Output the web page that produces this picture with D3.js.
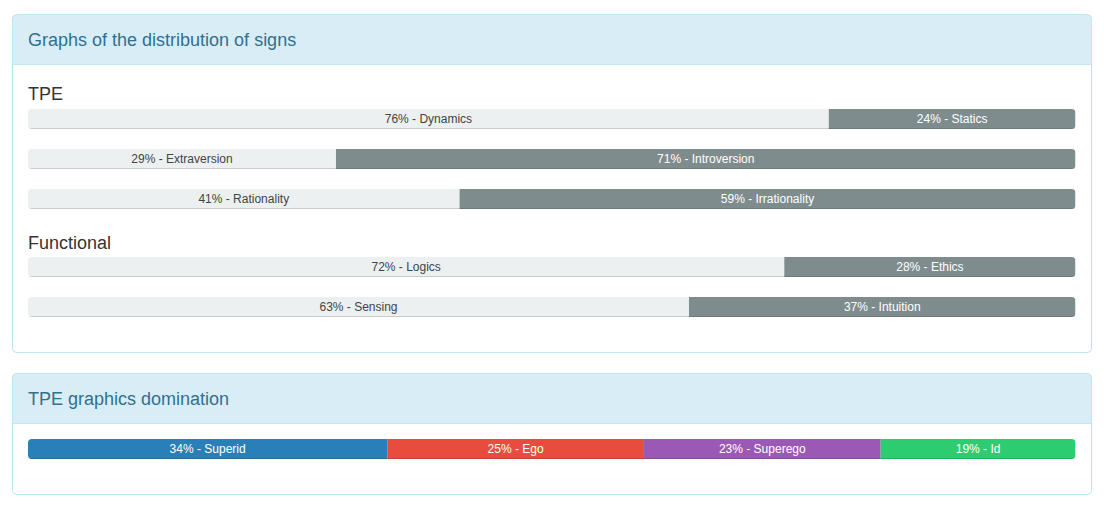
<!DOCTYPE html>
<html><head><meta charset="utf-8">
<script src="https://cdn.jsdelivr.net/npm/d3@7/dist/d3.min.js"></script>
<style>
html,body{margin:0;padding:0;background:#fff;}
svg{display:block;font-family:"Liberation Sans",Arial,Helvetica,sans-serif;}
</style></head>
<body>
<svg id="c" width="1104" height="507"></svg>
<script>
// ---- data ----
const panelTitles = ["Graphs of the distribution of signs", "TPE graphics domination"];
const groupNames = ["TPE", "Functional"];
const tpeLeftLabels = ["Dynamics", "Extraversion", "Rationality"];
const tpeRightLabels = ["Statics", "Introversion", "Irrationality"];
const tpeLeftValues = [76.45, 29.4, 41.2];
const funcLeftLabels = ["Logics", "Sensing"];
const funcRightLabels = ["Ethics", "Intuition"];
const funcLeftValues = [72.2, 63.1];
const domLabels = ["Superid", "Ego", "Superego", "Id"];
const domValues = [34.3, 24.5, 22.6, 18.6];
const domColors = ["#2980b9", "#e74c3c", "#9b59b6", "#2ecc71"];

const svg = d3.select("#c");
const x = d3.scaleLinear().domain([0, 100]).range([28, 1075.5]);
const barH = 20;

function panel(y0, h, title) {
  const g = svg.append("g");
  const clipId = "pc" + y0;
  g.append("clipPath").attr("id", clipId).append("rect")
    .attr("x", 12.5).attr("y", y0 + 0.5).attr("width", 1079).attr("height", h).attr("rx", 4);
  g.append("rect").attr("x", 12.5).attr("y", y0 + 0.5).attr("width", 1079).attr("height", 50)
    .attr("fill", "#d9edf7").attr("clip-path", `url(#${clipId})`);
  g.append("line").attr("x1", 12.5).attr("x2", 1091.5).attr("y1", y0 + 50.5).attr("y2", y0 + 50.5)
    .attr("stroke", "#bce8f1");
  g.append("rect").attr("x", 12.5).attr("y", y0 + 0.5).attr("width", 1079).attr("height", h).attr("rx", 4)
    .attr("fill", "none").attr("stroke", "#bce8f1");
  g.append("text").attr("x", 28).attr("y", y0 + 31.5).attr("font-size", 18).attr("fill", "#31708f").text(title);
}

function stacked(y, segs) {
  const id = "bc" + Math.round(y);
  svg.append("clipPath").attr("id", id).append("rect")
    .attr("x", x(0)).attr("y", y).attr("width", x(100) - x(0)).attr("height", barH).attr("rx", 4);
  const g = svg.append("g").attr("clip-path", `url(#${id})`);
  let acc = 0;
  const data = segs.map(s => { const o = Object.assign({}, s, {x0: acc}); acc += s.v; return o; });
  g.selectAll("rect.s").data(data).join("rect").attr("class", "s")
    .attr("x", d => x(d.x0)).attr("y", y).attr("width", d => x(d.x0 + d.v) - x(d.x0)).attr("height", barH)
    .attr("fill", d => d.fill);
  g.append("rect").attr("x", x(0)).attr("y", y + barH - 1).attr("width", x(100) - x(0)).attr("height", 1)
    .attr("fill", "rgba(0,0,0,0.15)");
  svg.selectAll(null).data(data).join("text")
    .attr("x", d => (x(d.x0) + x(d.x0 + d.v)) / 2).attr("y", y + 14)
    .attr("text-anchor", "middle").attr("font-size", 12).attr("fill", d => d.color)
    .text(d => Math.round(d.v) + "% - " + d.label);
}

panel(14, 338, panelTitles[0]);
panel(373, 121, panelTitles[1]);

svg.append("text").attr("x", 28).attr("y", 100).attr("font-size", 18).attr("fill", "#333").text(groupNames[0]);
svg.append("text").attr("x", 28).attr("y", 249).attr("font-size", 18).attr("fill", "#333").text(groupNames[1]);

const light = "#ecf0f1", dark = "#7f8c8d";
tpeLeftValues.forEach((v, i) => {
  stacked(109 + i * 40, [
    {v: v, label: tpeLeftLabels[i], fill: light, color: "#444"},
    {v: 100 - v, label: tpeRightLabels[i], fill: dark, color: "#fff"}
  ]);
});
funcLeftValues.forEach((v, i) => {
  stacked(257 + i * 40, [
    {v: v, label: funcLeftLabels[i], fill: light, color: "#444"},
    {v: 100 - v, label: funcRightLabels[i], fill: dark, color: "#fff"}
  ]);
});
stacked(439, domValues.map((v, i) => ({v: v, label: domLabels[i], fill: domColors[i], color: "#fff"})));
</script>
</body></html>
